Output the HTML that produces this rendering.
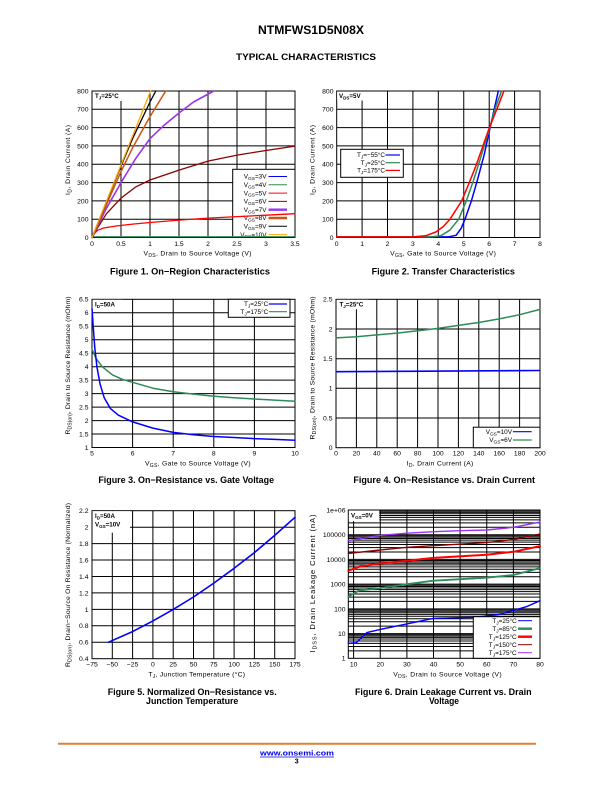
<!DOCTYPE html>
<html><head><meta charset="utf-8"><style>
html,body{margin:0;padding:0;background:#fff;}
svg{display:block;}
text{font-family:"Liberation Sans",Arial,sans-serif;fill:#000;}
.t{font-size:6.8px;}
.lg{font-size:6.4px;}
.ax{font-size:6.8px;}
.cap{font-size:9px;font-weight:bold;}
.g{stroke:#000;stroke-width:1;fill:none;}
.c{fill:none;stroke-linejoin:round;stroke-linecap:round;}
</style></head><body>
<svg width="612" height="792" viewBox="0 0 612 792" xmlns="http://www.w3.org/2000/svg">
<!-- Header -->
<text x="311" y="34" text-anchor="middle" font-size="11.5" font-weight="bold" textLength="106" lengthAdjust="spacingAndGlyphs">NTMFWS1D5N08X</text>
<text x="306" y="60" text-anchor="middle" font-size="9.3" font-weight="bold" textLength="140" lengthAdjust="spacingAndGlyphs">TYPICAL CHARACTERISTICS</text>

<!-- ===== Figure 1 ===== -->
<g class="g">
<path d="M121 91V237.5M150 91V237.5M179 91V237.5M208 91V237.5M237 91V237.5M266 91V237.5M92 219.2H295M92 200.9H295M92 182.6H295M92 164.25H295M92 145.9H295M92 127.6H295M92 109.3H295"/>
<rect x="92" y="91" width="203" height="146.5"/>
</g>
<rect x="92.5" y="91.5" width="34" height="9.5" fill="#fff"/>
<text x="95" y="98" font-size="6.2" font-weight="bold">T<tspan dy="1.5" font-size="4.5">J</tspan><tspan dy="-1.5">=25°C</tspan></text>
<!-- legend -->
<rect x="232.7" y="169.3" width="62.3" height="68.2" fill="#fff" stroke="#000" stroke-width="1"/>
<g class="lg" text-anchor="end">
<text x="266.5" y="178.7">V<tspan dy="1.4" font-size="4.8">GS</tspan><tspan dy="-1.4">=3V</tspan></text>
<text x="266.5" y="187">V<tspan dy="1.4" font-size="4.8">GS</tspan><tspan dy="-1.4">=4V</tspan></text>
<text x="266.5" y="195.3">V<tspan dy="1.4" font-size="4.8">GS</tspan><tspan dy="-1.4">=5V</tspan></text>
<text x="266.5" y="203.6">V<tspan dy="1.4" font-size="4.8">GS</tspan><tspan dy="-1.4">=6V</tspan></text>
<text x="266.5" y="211.9">V<tspan dy="1.4" font-size="4.8">GS</tspan><tspan dy="-1.4">=7V</tspan></text>
<text x="266.5" y="220.2">V<tspan dy="1.4" font-size="4.8">GS</tspan><tspan dy="-1.4">=8V</tspan></text>
<text x="266.5" y="228.5">V<tspan dy="1.4" font-size="4.8">GS</tspan><tspan dy="-1.4">=9V</tspan></text>
<text x="266.5" y="236.8">V<tspan dy="1.4" font-size="4.8">GS</tspan><tspan dy="-1.4">=10V</tspan></text>
</g>
<g>
<line x1="268.5" x2="287" y1="176.5" y2="176.5" stroke="#0000ff" stroke-width="1"/>
<line x1="268.5" x2="287" y1="184.8" y2="184.8" stroke="#2e8b57" stroke-width="1"/>
<line x1="268.5" x2="287" y1="193.1" y2="193.1" stroke="#ff0000" stroke-width="1"/>
<line x1="268.5" x2="287" y1="201.4" y2="201.4" stroke="#8b0000" stroke-width="1"/>
<line x1="268.5" x2="287" y1="209.7" y2="209.7" stroke="#9933ee" stroke-width="2.4"/>
<line x1="268.5" x2="287" y1="218" y2="218" stroke="#cc5511" stroke-width="2.4"/>
<line x1="268.5" x2="287" y1="226.3" y2="226.3" stroke="#000" stroke-width="1"/>
<line x1="268.5" x2="287" y1="234.6" y2="234.6" stroke="#ffa500" stroke-width="1"/>
</g>
<!-- curves -->
<line x1="92" y1="237.2" x2="295" y2="237.2" stroke="#0000ff" stroke-width="1"/>
<line x1="92" y1="236.6" x2="295" y2="236.6" stroke="#2e8b57" stroke-width="1"/>
<polyline class="c" stroke="#ff0000" stroke-width="1.3" points="92,237.5 94.9,232.9 97.8,230.2 103.6,228 115.2,226.1 132.6,224.1 150,222.5 179,220.1 208,218.1 237,216.6 266,215.2 295,213.7"/>
<polyline class="c" stroke="#8b0000" stroke-width="1.3" points="92,237.5 97.8,227.4 106.5,213.7 121,198.1 135.5,187.1 150,180 179,170.1 208,161.1 237,155.1 266,150.5 295,146.1"/>
<polyline class="c" stroke="#9933ee" stroke-width="1.6" points="92,237.5 106.5,208.2 121,182.6 135.5,158.8 150,138.6 164.5,124.9 179,113 193.5,102 213.8,91"/>
<polyline class="c" stroke="#cc5511" stroke-width="1.5" points="92,237.5 121,171.6 132.6,147.8 150,116.6 165.7,91"/>
<polyline class="c" stroke="#000" stroke-width="1.3" points="92,237.5 121,166.1 132.6,138.6 150,102 155.8,91"/>
<polyline class="c" stroke="#ffa500" stroke-width="1.3" points="92,237.5 150.6,91"/>
<g class="t" text-anchor="end">
<text x="88.5" y="239.9">0</text><text x="88.5" y="221.6">100</text><text x="88.5" y="203.3">200</text><text x="88.5" y="185">300</text><text x="88.5" y="166.7">400</text><text x="88.5" y="148.3">500</text><text x="88.5" y="130">600</text><text x="88.5" y="111.7">700</text><text x="88.5" y="93.4">800</text>
</g>
<g class="t" text-anchor="middle">
<text x="92" y="246">0</text><text x="121" y="246">0.5</text><text x="150" y="246">1</text><text x="179" y="246">1.5</text><text x="208" y="246">2</text><text x="237" y="246">2.5</text><text x="266" y="246">3</text><text x="295" y="246">3.5</text>
</g>
<text class="ax" x="197.5" y="255.5" text-anchor="middle" textLength="108" lengthAdjust="spacing">V<tspan dy="1.5" font-size="5">DS</tspan><tspan dy="-1.5">, Drain to Source Voltage (V)</tspan></text>
<text class="ax" transform="translate(70,160) rotate(-90)" text-anchor="middle" textLength="70" lengthAdjust="spacing">I<tspan dy="1.5" font-size="5">D</tspan><tspan dy="-1.5">, Drain Current (A)</tspan></text>
<text class="cap" x="190" y="274.5" text-anchor="middle" textLength="160" lengthAdjust="spacingAndGlyphs">Figure 1. On−Region Characteristics</text>

<!-- ===== Figure 2 ===== -->
<g class="g">
<path d="M362.1 91V237.5M387.5 91V237.5M412.9 91V237.5M438.3 91V237.5M463.75 91V237.5M489.2 91V237.5M514.6 91V237.5M336.7 219.2H540M336.7 200.9H540M336.7 182.6H540M336.7 164.25H540M336.7 145.9H540M336.7 127.6H540M336.7 109.3H540"/>
<rect x="336.7" y="91" width="203.3" height="146.5"/>
</g>
<rect x="337.2" y="91.5" width="26" height="9" fill="#fff"/>
<text x="339" y="98" font-size="6.2" font-weight="bold">V<tspan dy="1.5" font-size="4.5">DS</tspan><tspan dy="-1.5">=5V</tspan></text>
<rect x="340.7" y="149.3" width="62.6" height="28" fill="#fff" stroke="#000" stroke-width="1"/>
<g class="lg" text-anchor="end">
<text x="385" y="157.2">T<tspan dy="1.4" font-size="4.8">J</tspan><tspan dy="-1.4">=−55°C</tspan></text>
<text x="385" y="164.9">T<tspan dy="1.4" font-size="4.8">J</tspan><tspan dy="-1.4">=25°C</tspan></text>
<text x="385" y="172.6">T<tspan dy="1.4" font-size="4.8">J</tspan><tspan dy="-1.4">=175°C</tspan></text>
</g>
<line x1="385.5" x2="400" y1="155" y2="155" stroke="#0000ff" stroke-width="1.2"/>
<line x1="385.5" x2="400" y1="162.7" y2="162.7" stroke="#2e8b57" stroke-width="1.2"/>
<line x1="385.5" x2="400" y1="170.4" y2="170.4" stroke="#ff0000" stroke-width="1.2"/>
<polyline class="c" stroke="#0000ff" stroke-width="1.5" points="336.7,236.9 448.5,236.9 456.1,235.3 461.2,228.3 465,219.2 471.4,200.9 477.7,178.9 484.1,155.1 489.7,129.5 494.2,109.3 498.3,91"/>
<polyline class="c" stroke="#2e8b57" stroke-width="1.5" points="336.7,236.9 430.7,236.9 440.9,235.7 449.8,230.2 458.7,219.2 466.3,200.9 473.4,180.7 480.3,158.8 489.2,129.5 495.5,107.5 501.6,91"/>
<polyline class="c" stroke="#ff0000" stroke-width="1.5" points="336.7,236.9 412.9,236.9 425.6,235.8 435.8,232 443.4,226.5 450,219.2 461.7,200.9 469.3,182.6 476.5,164.3 488.7,129.5 496.8,109.3 503.9,91"/>
<g class="t" text-anchor="end">
<text x="333.5" y="239.9">0</text><text x="333.5" y="221.6">100</text><text x="333.5" y="203.3">200</text><text x="333.5" y="185">300</text><text x="333.5" y="166.7">400</text><text x="333.5" y="148.3">500</text><text x="333.5" y="130">600</text><text x="333.5" y="111.7">700</text><text x="333.5" y="93.4">800</text>
</g>
<g class="t" text-anchor="middle">
<text x="336.7" y="246">0</text><text x="362.1" y="246">1</text><text x="387.5" y="246">2</text><text x="412.9" y="246">3</text><text x="438.3" y="246">4</text><text x="463.75" y="246">5</text><text x="489.2" y="246">6</text><text x="514.6" y="246">7</text><text x="540" y="246">8</text>
</g>
<text class="ax" x="443" y="255.5" text-anchor="middle" textLength="105.7" lengthAdjust="spacing">V<tspan dy="1.5" font-size="5">GS</tspan><tspan dy="-1.5">, Gate to Source Voltage (V)</tspan></text>
<text class="ax" transform="translate(314.5,160) rotate(-90)" text-anchor="middle" textLength="70" lengthAdjust="spacing">I<tspan dy="1.5" font-size="5">D</tspan><tspan dy="-1.5">, Drain Current (A)</tspan></text>
<text class="cap" x="443.3" y="274.5" text-anchor="middle" textLength="143.3" lengthAdjust="spacingAndGlyphs">Figure 2. Transfer Characteristics</text>

<!-- ===== Figure 3 ===== -->
<g class="g">
<path d="M132.6 299.3V447.5M173.2 299.3V447.5M213.8 299.3V447.5M254.4 299.3V447.5M92 434H295M92 420.6H295M92 407.1H295M92 393.6H295M92 380.1H295M92 366.7H295M92 353.2H295M92 339.7H295M92 326.3H295M92 312.8H295"/>
<rect x="92" y="299.3" width="203" height="148.2"/>
</g>
<rect x="92.5" y="299.8" width="30" height="9.5" fill="#fff"/>
<text x="95" y="306.5" font-size="6.2" font-weight="bold">I<tspan dy="1.5" font-size="4.5">D</tspan><tspan dy="-1.5">=50A</tspan></text>
<rect x="228.3" y="299.3" width="61.7" height="18" fill="#fff" stroke="#000" stroke-width="1"/>
<g class="lg" text-anchor="end">
<text x="268.3" y="306.2">T<tspan dy="1.4" font-size="4.8">J</tspan><tspan dy="-1.4">=25°C</tspan></text>
<text x="268.3" y="313.9">T<tspan dy="1.4" font-size="4.8">J</tspan><tspan dy="-1.4">=175°C</tspan></text>
</g>
<line x1="268.8" x2="287" y1="304" y2="304" stroke="#0000ff" stroke-width="1.2"/>
<line x1="268.8" x2="287" y1="311.7" y2="311.7" stroke="#2e8b57" stroke-width="1.2"/>
<polyline class="c" stroke="#2e8b57" stroke-width="1.5" points="92,349.2 96.1,358.6 102.2,366.7 112.3,374.8 122,379.2 132.6,382.3 152.9,388.2 173.2,391.7 193.5,394.1 213.8,396.3 234.1,397.7 254.4,399 274.7,400.1 295,401.2"/>
<polyline class="c" stroke="#0000ff" stroke-width="1.5" points="92,308.7 93.2,326.3 94.8,347.8 96.9,366.7 100.1,384.2 104.2,397.7 110.3,408.4 118.4,415.2 132.6,421.9 152.9,428.1 173.2,432.4 193.5,434.8 213.8,436.5 234.1,437.5 254.4,438.6 274.7,439.4 295,440.2"/>
<g class="t" text-anchor="end">
<text x="88.5" y="449.9">1</text><text x="88.5" y="436.4">1.5</text><text x="88.5" y="423">2</text><text x="88.5" y="409.5">2.5</text><text x="88.5" y="396">3</text><text x="88.5" y="382.5">3.5</text><text x="88.5" y="369.1">4</text><text x="88.5" y="355.6">4.5</text><text x="88.5" y="342.1">5</text><text x="88.5" y="328.7">5.5</text><text x="88.5" y="315.2">6</text><text x="88.5" y="301.7">6.5</text>
</g>
<g class="t" text-anchor="middle">
<text x="92" y="455.5">5</text><text x="132.6" y="455.5">6</text><text x="173.2" y="455.5">7</text><text x="213.8" y="455.5">8</text><text x="254.4" y="455.5">9</text><text x="295" y="455.5">10</text>
</g>
<text class="ax" x="197.8" y="465.3" text-anchor="middle" textLength="105.7" lengthAdjust="spacing">V<tspan dy="1.5" font-size="5">GS</tspan><tspan dy="-1.5">, Gate to Source Voltage (V)</tspan></text>
<text class="ax" transform="translate(70,365.5) rotate(-90)" text-anchor="middle" textLength="138" lengthAdjust="spacing">R<tspan dy="1.5" font-size="5">DS(on)</tspan><tspan dy="-1.5">, Drain to Source Resistance (mOhm)</tspan></text>
<text class="cap" x="186.2" y="483" text-anchor="middle" textLength="175.7" lengthAdjust="spacingAndGlyphs">Figure 3. On−Resistance vs. Gate Voltage</text>

<!-- ===== Figure 4 ===== -->
<g class="g">
<path d="M356.4 299.3V447.7M376.8 299.3V447.7M397.2 299.3V447.7M417.6 299.3V447.7M438 299.3V447.7M458.4 299.3V447.7M478.8 299.3V447.7M499.2 299.3V447.7M519.6 299.3V447.7M336 418H540M336 388.3H540M336 358.7H540M336 329H540"/>
<rect x="336" y="299.3" width="204" height="148.4"/>
</g>
<rect x="336.5" y="299.8" width="32" height="9.5" fill="#fff"/>
<text x="339.5" y="306.5" font-size="6.2" font-weight="bold">T<tspan dy="1.5" font-size="4.5">J</tspan><tspan dy="-1.5">=25°C</tspan></text>
<rect x="473.3" y="427.2" width="66.7" height="20.5" fill="#fff" stroke="#000" stroke-width="1"/>
<g class="lg" text-anchor="end">
<text x="512" y="433.9">V<tspan dy="1.4" font-size="4.8">GS</tspan><tspan dy="-1.4">=10V</tspan></text>
<text x="512" y="442.2">V<tspan dy="1.4" font-size="4.8">GS</tspan><tspan dy="-1.4">=6V</tspan></text>
</g>
<line x1="513" x2="531.7" y1="431.7" y2="431.7" stroke="#0000ff" stroke-width="1.2"/>
<line x1="513" x2="531.7" y1="440" y2="440" stroke="#2e8b57" stroke-width="1.2"/>
<polyline class="c" stroke="#2e8b57" stroke-width="1.5" points="336,337.9 356.4,336.7 376.8,334.9 397.2,333.1 417.6,330.8 438,328.4 458.4,325.4 478.8,322.5 499.2,318.9 519.6,314.7 540,309.4"/>
<line x1="336" y1="371.7" x2="540" y2="370.5" stroke="#0000ff" stroke-width="1.6"/>
<g class="t" text-anchor="end">
<text x="332.5" y="450.1">0</text><text x="332.5" y="420.4">0.5</text><text x="332.5" y="390.7">1</text><text x="332.5" y="361.1">1.5</text><text x="332.5" y="331.4">2</text><text x="332.5" y="301.7">2.5</text>
</g>
<g class="t" text-anchor="middle">
<text x="336" y="455.5">0</text><text x="356.4" y="455.5">20</text><text x="376.8" y="455.5">40</text><text x="397.2" y="455.5">60</text><text x="417.6" y="455.5">80</text><text x="438" y="455.5">100</text><text x="458.4" y="455.5">120</text><text x="478.8" y="455.5">140</text><text x="499.2" y="455.5">160</text><text x="519.6" y="455.5">180</text><text x="540" y="455.5">200</text>
</g>
<text class="ax" x="440" y="465.3" text-anchor="middle" textLength="66.6" lengthAdjust="spacing">I<tspan dy="1.5" font-size="5">D</tspan><tspan dy="-1.5">, Drain Current (A)</tspan></text>
<text class="ax" transform="translate(314.5,368) rotate(-90)" text-anchor="middle" textLength="143" lengthAdjust="spacing">R<tspan dy="1.5" font-size="5">DS(on)</tspan><tspan dy="-1.5">, Drain to Source Resistance (mOhm)</tspan></text>
<text class="cap" x="444.2" y="483" text-anchor="middle" textLength="181.7" lengthAdjust="spacingAndGlyphs">Figure 4. On−Resistance vs. Drain Current</text>

<!-- ===== Figure 5 ===== -->
<g class="g">
<path d="M112.3 510.7V658.7M132.6 510.7V658.7M152.9 510.7V658.7M173.2 510.7V658.7M193.5 510.7V658.7M213.8 510.7V658.7M234.1 510.7V658.7M254.4 510.7V658.7M274.7 510.7V658.7M92 642.3H295M92 625.8H295M92 609.4H295M92 592.9H295M92 576.5H295M92 560H295M92 543.6H295M92 527.2H295"/>
<rect x="92" y="510.7" width="203" height="148"/>
</g>
<rect x="92.5" y="511.2" width="37.5" height="21.5" fill="#fff"/>
<text x="95" y="518" font-size="6.2" font-weight="bold">I<tspan dy="1.5" font-size="4.5">D</tspan><tspan dy="-1.5">=50A</tspan></text>
<text x="95" y="526.5" font-size="6.2" font-weight="bold">V<tspan dy="1.5" font-size="4.5">GS</tspan><tspan dy="-1.5">=10V</tspan></text>
<polyline class="c" stroke="#0000ff" stroke-width="1.6" points="108.2,642.3 132.6,631.6 152.9,620.9 173.2,609.4 193.5,597 213.8,583.1 234.1,568.3 254.4,552.6 274.7,535.4 295,517.3"/>
<g class="t" text-anchor="end">
<text x="88.5" y="661.1">0.4</text><text x="88.5" y="644.7">0.6</text><text x="88.5" y="628.2">0.8</text><text x="88.5" y="611.8">1</text><text x="88.5" y="595.3">1.2</text><text x="88.5" y="578.9">1.4</text><text x="88.5" y="562.4">1.6</text><text x="88.5" y="546">1.8</text><text x="88.5" y="529.6">2</text><text x="88.5" y="513.1">2.2</text>
</g>
<g class="t" text-anchor="middle">
<text x="92" y="666.7">−75</text><text x="112.3" y="666.7">−50</text><text x="132.6" y="666.7">−25</text><text x="152.9" y="666.7">0</text><text x="173.2" y="666.7">25</text><text x="193.5" y="666.7">50</text><text x="213.8" y="666.7">75</text><text x="234.1" y="666.7">100</text><text x="254.4" y="666.7">125</text><text x="274.7" y="666.7">150</text><text x="295" y="666.7">175</text>
</g>
<text class="ax" x="196.7" y="676.5" text-anchor="middle" textLength="96.7" lengthAdjust="spacing">T<tspan dy="1.5" font-size="5">J</tspan><tspan dy="-1.5">, Junction Temperature (°C)</tspan></text>
<text class="ax" transform="translate(70,585) rotate(-90)" text-anchor="middle" textLength="164" lengthAdjust="spacing">R<tspan dy="1.5" font-size="5">DS(on)</tspan><tspan dy="-1.5">, Drain−Source On Resistance (Normalized)</tspan></text>
<text class="cap" x="192.2" y="695" text-anchor="middle" textLength="169" lengthAdjust="spacingAndGlyphs">Figure 5. Normalized On−Resistance vs.</text>
<text class="cap" x="192.2" y="704" text-anchor="middle" textLength="92.3" lengthAdjust="spacingAndGlyphs">Junction Temperature</text>

<!-- ===== Figure 6 ===== -->
<g class="g">
<path d="M348.3 650.86H540M348.3 646.51H540M348.3 643.42H540M348.3 641.02H540M348.3 639.06H540M348.3 637.41H540M348.3 635.98H540M348.3 634.71H540
M348.3 633.58H540M348.3 626.14H540M348.3 621.79H540M348.3 618.7H540M348.3 616.3H540M348.3 614.34H540M348.3 612.69H540M348.3 611.26H540M348.3 609.99H540
M348.3 608.86H540M348.3 601.42H540M348.3 597.07H540M348.3 593.98H540M348.3 591.58H540M348.3 589.62H540M348.3 587.97H540M348.3 586.54H540M348.3 585.27H540
M348.3 584.14H540M348.3 576.7H540M348.3 572.35H540M348.3 569.26H540M348.3 566.86H540M348.3 564.9H540M348.3 563.25H540M348.3 561.82H540M348.3 560.55H540
M348.3 559.42H540M348.3 551.98H540M348.3 547.63H540M348.3 544.54H540M348.3 542.14H540M348.3 540.18H540M348.3 538.53H540M348.3 537.1H540M348.3 535.83H540
M348.3 534.7H540M348.3 527.26H540M348.3 522.91H540M348.3 519.82H540M348.3 517.42H540M348.3 515.46H540M348.3 513.81H540M348.3 512.38H540M348.3 511.11H540
M353.6 510V658.3M380.25 510V658.3M406.9 510V658.3M433.5 510V658.3M460.1 510V658.3M486.75 510V658.3M513.4 510V658.3"/>
<rect x="348.3" y="510" width="191.7" height="148.3"/>
</g>
<rect x="348.8" y="510.5" width="30.5" height="10.5" fill="#fff"/>
<text x="351" y="517.5" font-size="6.2" font-weight="bold">V<tspan dy="1.5" font-size="4.5">GS</tspan><tspan dy="-1.5">=0V</tspan></text>
<polyline class="c" stroke="#9933ee" stroke-width="1.4" points="348.3,540.6 380.25,535.4 407,533.2 433.5,531.7 460.1,530.7 486.75,530 513.4,527.3 540,522.1"/>
<polyline class="c" stroke="#8b0000" stroke-width="1.4" points="348.3,553.4 380.25,550 406.9,547.3 433.5,545.7 486.75,542.6 513.4,539.4 540,534"/>
<polyline class="c" stroke="#ff0000" stroke-width="2" points="348.3,570.7 358.95,566.8 380.25,563.4 406.9,560.7 433.5,557.9 486.75,554.7 513.4,551.8 540,546.1"/>
<polyline class="c" stroke="#2e8b57" stroke-width="1.8" points="348.3,596.75 358.95,590.6 380.25,588.1 406.9,584.1 433.5,580.7 486.75,577.7 513.4,575 540,568.1"/>
<polyline class="c" stroke="#0000ff" stroke-width="1.4" points="348.3,643.3 356.3,642.7 366.9,632.6 380.25,629.4 406.9,623.9 433.5,618.3 473.4,617.3 500,614.3 513.4,610.6 526.7,606.6 540,600.7"/>
<rect x="473.3" y="616.7" width="66.7" height="41.6" fill="#fff" stroke="#000" stroke-width="1"/>
<g class="lg" text-anchor="end">
<text x="516.7" y="622.9">T<tspan dy="1.4" font-size="4.8">J</tspan><tspan dy="-1.4">=25°C</tspan></text>
<text x="516.7" y="630.9">T<tspan dy="1.4" font-size="4.8">J</tspan><tspan dy="-1.4">=85°C</tspan></text>
<text x="516.7" y="638.9">T<tspan dy="1.4" font-size="4.8">J</tspan><tspan dy="-1.4">=125°C</tspan></text>
<text x="516.7" y="646.9">T<tspan dy="1.4" font-size="4.8">J</tspan><tspan dy="-1.4">=150°C</tspan></text>
<text x="516.7" y="654.9">T<tspan dy="1.4" font-size="4.8">J</tspan><tspan dy="-1.4">=175°C</tspan></text>
</g>
<line x1="518" x2="532" y1="620.7" y2="620.7" stroke="#0000ff" stroke-width="1"/>
<line x1="518" x2="532" y1="628.7" y2="628.7" stroke="#2e8b57" stroke-width="2.4"/>
<line x1="518" x2="532" y1="636.7" y2="636.7" stroke="#ff0000" stroke-width="2.4"/>
<line x1="518" x2="532" y1="644.7" y2="644.7" stroke="#8b0000" stroke-width="1"/>
<line x1="518" x2="532" y1="652.7" y2="652.7" stroke="#9933ee" stroke-width="1"/>
<g class="t" text-anchor="end">
<text x="345.5" y="512.4">1e+06</text><text x="345.5" y="537.1">100000</text><text x="345.5" y="561.8">10000</text><text x="345.5" y="586.5">1000</text><text x="345.5" y="611.3">100</text><text x="345.5" y="636">10</text><text x="345.5" y="660.7">1</text>
</g>
<g class="t" text-anchor="middle">
<text x="353.6" y="666.5">10</text><text x="380.25" y="666.5">20</text><text x="406.9" y="666.5">30</text><text x="433.5" y="666.5">40</text><text x="460.1" y="666.5">50</text><text x="486.75" y="666.5">60</text><text x="513.4" y="666.5">70</text><text x="540" y="666.5">80</text>
</g>
<text class="ax" x="447.5" y="676.5" text-anchor="middle" textLength="108.4" lengthAdjust="spacing">V<tspan dy="1.5" font-size="5">DS</tspan><tspan dy="-1.5">, Drain to Source Voltage (V)</tspan></text>
<text transform="translate(314.8,583.5) rotate(-90)" text-anchor="middle" font-size="7.6" textLength="138" lengthAdjust="spacing">I<tspan dy="1.5" font-size="5.5">DSS</tspan><tspan dy="-1.5">, Drain Leakage Current (nA)</tspan></text>
<text class="cap" x="443.3" y="695" text-anchor="middle" textLength="176.7" lengthAdjust="spacingAndGlyphs">Figure 6. Drain Leakage Current vs. Drain</text>
<text class="cap" x="444" y="704" text-anchor="middle" textLength="30" lengthAdjust="spacingAndGlyphs">Voltage</text>

<!-- Footer -->
<line x1="58" y1="743.7" x2="536" y2="743.7" stroke="#dc8136" stroke-width="2"/>
<text x="297" y="755.5" text-anchor="middle" font-size="7.6" font-weight="bold" fill="#0000ee" style="fill:#0000ee" textLength="74" lengthAdjust="spacingAndGlyphs">www.onsemi.com</text>
<line x1="260" y1="757" x2="334" y2="757" stroke="#0000ee" stroke-width="0.7"/>
<text x="296.7" y="763.5" text-anchor="middle" font-size="7" font-weight="bold">3</text>
</svg>
</body></html>
